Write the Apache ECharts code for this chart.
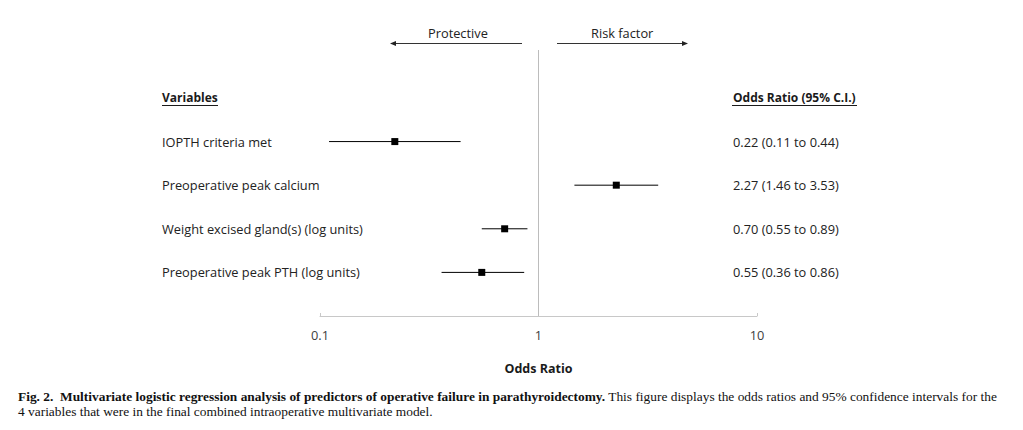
<!DOCTYPE html>
<html>
<head>
<meta charset="utf-8">
<script src="https://cdn.jsdelivr.net/npm/echarts@6/dist/echarts.min.js"></script>
<style>html,body{margin:0;padding:0;background:#fff}#c{width:1023px;height:430px}</style>
</head>
<body>
<div id="c"></div>
<script>
const variables = ['IOPTH criteria met', 'Preoperative peak calcium', 'Weight excised gland(s) (log units)', 'Preoperative peak PTH (log units)'];
const oddsRatio = [0.22, 2.27, 0.70, 0.55];
const ciLow = [0.11, 1.46, 0.55, 0.36];
const ciHigh = [0.44, 3.53, 0.89, 0.86];
const xTicks = [0.1, 1, 10];
const leftHeader = 'Variables';
const rightHeader = 'Odds Ratio (95% C.I.)';
const xName = 'Odds Ratio';
const leftArrowText = 'Protective';
const rightArrowText = 'Risk factor';
const captionBold = 'Fig. 2.  Multivariate logistic regression analysis of predictors of operative failure in parathyroidectomy.';
const captionRest = ' This figure displays the odds ratios and 95% confidence intervals for the';
const captionLine2 = '4 variables that were in the final combined intraoperative multivariate model.';

const FONT = 'Open Sans';
const FS = 12.8;
const rowIdx = variables.map((_, i) => i + 1);
const rightTexts = oddsRatio.map((v, i) => `${v.toFixed(2)} (${ciLow[i].toFixed(2)} to ${ciHigh[i].toFixed(2)})`);

const chart = echarts.init(document.getElementById('c'), null, {renderer: 'svg'});
const yBase = {
  type: 'value', inverse: true, min: -1.1, max: 5,
  splitLine: {show: false}, axisLine: {show: false}, axisTick: {show: false}
};
chart.setOption({
  animation: false,
  backgroundColor: '#fff',
  textStyle: {fontFamily: FONT},
  grid: {left: 320, right: 266, top: 50, bottom: 114},
  xAxis: {
    type: 'log', logBase: 10, min: xTicks[0], max: xTicks[xTicks.length - 1],
    axisLine: {onZero: false, lineStyle: {color: '#c8c8c8', width: 1}},
    axisTick: {inside: true, length: 3, lineStyle: {color: '#c8c8c8'}},
    splitLine: {show: false},
    axisLabel: {color: '#404040', fontSize: FS, fontFamily: FONT, margin: 12, formatter: v => String(v)},
    name: xName, nameLocation: 'middle', nameGap: 46,
    nameTextStyle: {color: '#1a1a1a', fontSize: 12.5, fontWeight: 'bold', fontFamily: FONT}
  },
  yAxis: [
    Object.assign({}, yBase, {
      position: 'left',
      axisLabel: {
        customValues: [0].concat(rowIdx), align: 'left', margin: 158,
        color: '#222', fontSize: FS, fontFamily: FONT,
        formatter: v => v === 0 ? '{h|' + leftHeader + '}' : variables[v - 1],
        rich: {h: {fontWeight: 'bold', color: '#1a1a1a', fontSize: 12, fontFamily: FONT}}
      }
    }),
    Object.assign({}, yBase, {
      position: 'right', offset: -32,
      axisLabel: {
        customValues: [0].concat(rowIdx), align: 'left', margin: 8,
        color: '#222', fontSize: FS, fontFamily: FONT,
        formatter: v => v === 0 ? '{h|' + rightHeader + '}' : rightTexts[v - 1],
        rich: {h: {fontWeight: 'bold', color: '#1a1a1a', fontSize: 12, fontFamily: FONT}}
      }
    })
  ],
  series: [
    {
      type: 'custom',
      data: oddsRatio.map((v, i) => [v, rowIdx[i], ciLow[i], ciHigh[i]]),
      encode: {x: [0, 2, 3], y: 1},
      clip: false,
      renderItem: function (params, api) {
        const y = api.value(1);
        const p = api.coord([api.value(0), y]);
        const lo = api.coord([api.value(2), y]);
        const hi = api.coord([api.value(3), y]);
        return {
          type: 'group',
          children: [
            {type: 'line', shape: {x1: lo[0], y1: lo[1], x2: hi[0], y2: hi[1]}, style: {stroke: '#000', lineWidth: 1}},
            {type: 'rect', shape: {x: p[0] - 3.5, y: p[1] - 3.5, width: 7, height: 7}, style: {fill: '#000'}}
          ]
        };
      },
      markLine: {
        silent: true, symbol: 'none', label: {show: false},
        lineStyle: {color: '#bcbcbc', width: 1, type: 'solid'},
        data: [{xAxis: 1}]
      }
    }
  ],
  graphic: [
    {type: 'text', left: 428, top: 26, style: {text: leftArrowText, font: FS + 'px "' + FONT + '"', fill: '#222'}},
    {type: 'text', left: 591, top: 26, style: {text: rightArrowText, font: FS + 'px "' + FONT + '"', fill: '#222'}},
    {type: 'line', shape: {x1: 522, y1: 43.5, x2: 394, y2: 43.5}, style: {stroke: '#333', lineWidth: 1}},
    {type: 'polygon', shape: {points: [[390, 43.5], [396, 41], [396, 46]]}, style: {fill: '#222'}},
    {type: 'line', shape: {x1: 557, y1: 43.5, x2: 684, y2: 43.5}, style: {stroke: '#333', lineWidth: 1}},
    {type: 'polygon', shape: {points: [[688, 43.5], [682, 41], [682, 46]]}, style: {fill: '#222'}},
    {type: 'line', shape: {x1: 162, y1: 105.5, x2: 218, y2: 105.5}, style: {stroke: '#1a1a1a', lineWidth: 1}},
    {type: 'line', shape: {x1: 732, y1: 105.5, x2: 857, y2: 105.5}, style: {stroke: '#1a1a1a', lineWidth: 1}},
    {
      type: 'text', left: 18, top: 389,
      style: {
        text: '{b|' + captionBold + '}' + captionRest + '\n' + captionLine2,
        font: '13.4px "Liberation Serif"', fill: '#111', lineHeight: 15,
        rich: {b: {fontWeight: 'bold', fontFamily: 'Liberation Serif', fontSize: 13.4, fill: '#111'}}
      }
    }
  ]
});
</script>
</body>
</html>
